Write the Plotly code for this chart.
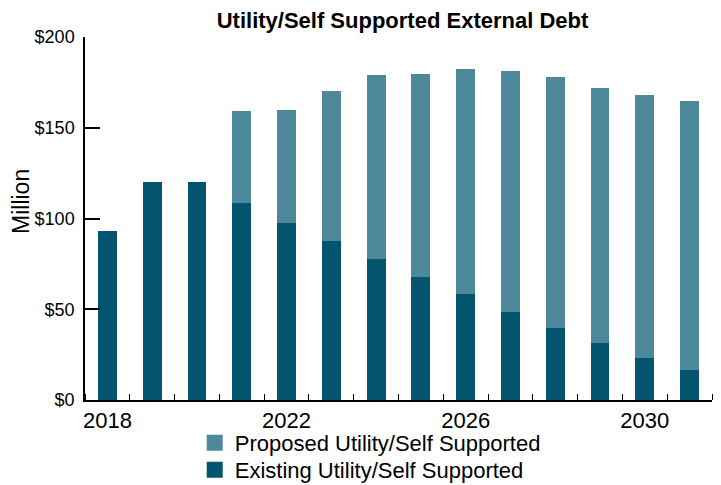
import plotly.graph_objects as go

years = list(range(2018, 2032))
existing = [93, 120, 120, 108.5, 97.5, 87.5, 77.5, 68, 58.5, 48.5, 39.5, 31.5, 23, 16.5]
total = [93, 120, 120, 159.5, 160, 170.5, 179, 179.5, 182.5, 181.5, 178, 172, 168, 165]
proposed = [t - e for t, e in zip(total, existing)]
xtick_labels = [2018, 2022, 2026, 2030]
ytick_vals = [0, 50, 100, 150, 200]

existing_color = "#03546F"
proposed_color = "#4E889B"
font = "Liberation Sans, Arial, sans-serif"

# page body has an 8px margin, so the figure is a bit smaller than the window
W, H = 713, 477
plot_w, plot_h = 627, 363

fig = go.Figure()

# stacked bars: existing on bottom, proposed on top
fig.add_trace(
    go.Bar(x=years, y=existing, marker=dict(color=existing_color, line=dict(width=0)),
           width=0.42, showlegend=False, name="Existing Utility/Self Supported")
)
fig.add_trace(
    go.Bar(x=years, y=proposed, marker=dict(color=proposed_color, line=dict(width=0)),
           width=0.42, showlegend=False, name="Proposed Utility/Self Supported")
)

# legend entries (two legends so the rows sit closer together)
fig.add_trace(
    go.Scatter(x=[None], y=[None], mode="markers", name="Proposed Utility/Self Supported",
               marker=dict(symbol="square", size=20, color=proposed_color), legend="legend")
)
fig.add_trace(
    go.Scatter(x=[None], y=[None], mode="markers", name="Existing Utility/Self Supported",
               marker=dict(symbol="square", size=20, color=existing_color), legend="legend2")
)

legend_style = dict(
    orientation="v",
    xanchor="left",
    yanchor="middle",
    itemsizing="trace",
    font=dict(size=22),
    bgcolor="rgba(0,0,0,0)",
)

fig.update_layout(
    barmode="stack",
    width=W,
    height=H,
    margin=dict(l=77, r=9, t=29, b=85, autoexpand=False),
    paper_bgcolor="white",
    plot_bgcolor="white",
    font=dict(family=font, size=20, color="black"),
    title=dict(
        text="<b>Utility/Self Supported External Debt</b>",
        x=0.5 + 4 / plot_w, xref="paper", xanchor="center",
        y=1 - 12 / H, yref="container", yanchor="middle",
        font=dict(size=22),
    ),
    legend=dict(legend_style, x=0.175, y=-43 / plot_h),
    legend2=dict(legend_style, x=0.175, y=-70 / plot_h),
    xaxis=dict(
        range=[2017.5, 2031.5],
        tickvals=xtick_labels,
        ticktext=[str(v) for v in xtick_labels],
        ticks="",
        showline=True, linecolor="black", linewidth=1.5,
        showgrid=False, zeroline=False,
        tickfont=dict(size=22),
        minor=dict(ticks="inside", tick0=2017.5, dtick=1, ticklen=6,
                   tickcolor="black", tickwidth=1, showgrid=False),
    ),
    yaxis=dict(
        range=[0, 200],
        tickvals=ytick_vals,
        ticktext=[f"${v}" for v in ytick_vals],
        ticks="inside", ticklen=15, tickwidth=1.5, tickcolor="black",
        ticklabelstandoff=5,
        showline=True, linecolor="black", linewidth=1.5,
        showgrid=False, zeroline=False,
        tickfont=dict(size=18),
    ),
    annotations=[
        dict(
            text="Million", textangle=-90,
            xref="paper", yref="paper",
            x=-64 / plot_w, y=198 / plot_h,
            xanchor="center", yanchor="middle",
            showarrow=False, font=dict(size=23),
        )
    ],
)

fig.write_html("out.html")
